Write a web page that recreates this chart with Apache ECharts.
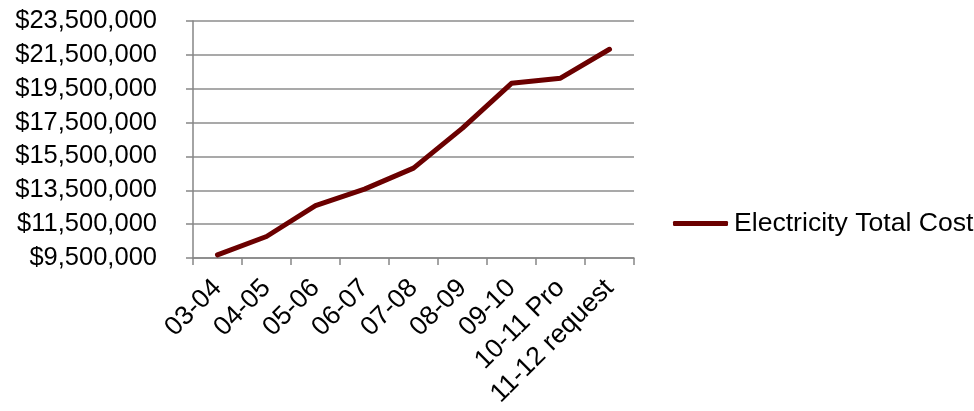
<!DOCTYPE html>
<html>
<head>
<meta charset="utf-8">
<script src="https://cdn.jsdelivr.net/npm/echarts@6/dist/echarts.min.js"></script>
<style>
  html, body { margin: 0; padding: 0; background: #fff; }
  #main { width: 974px; height: 411px; }
</style>
</head>
<body>
<div id="main"></div>
<script>
// values
var years = ['03-04', '04-05', '05-06', '06-07', '07-08', '08-09', '09-10', '10-11 Pro', '11-12 request'];
var totalCost = [9680000, 10770000, 12590000, 13570000, 14810000, 17170000, 19820000, 20120000, 21830000];
var seriesName = 'Electricity Total Cost';

var myChart = echarts.init(document.getElementById('main'));

function money(v) {
    return '$' + String(v).replace(/\B(?=(\d{3})+(?!\d))/g, ',');
}

myChart.setOption({
    animation: false,
    textStyle: { fontFamily: 'Liberation Sans, Arial, sans-serif' },
    grid: { left: 193, right: 340, top: 21, bottom: 153 },
    legend: {
        data: [seriesName],
        left: 668,
        top: 205,
        icon: 'roundRect',
        itemWidth: 55,
        itemHeight: 5,
        itemGap: 0,
        textStyle: { fontSize: 26.6, color: '#000', padding: [0, 0, 0, 1] }
    },
    xAxis: {
        type: 'category',
        data: years,
        boundaryGap: true,
        axisLine: { lineStyle: { color: '#868686', width: 1.5 } },
        axisTick: { show: true, length: 7, lineStyle: { color: '#868686', width: 1.5 } },
        axisLabel: { rotate: 45, margin: 26, padding: [10, 0, 0, 0], fontSize: 26.5, color: '#000', interval: 0 }
    },
    yAxis: {
        type: 'value',
        min: 9500000,
        max: 23500000,
        interval: 2000000,
        axisLine: { show: true, lineStyle: { color: '#868686', width: 1.5 } },
        axisTick: { show: true, length: 7, lineStyle: { color: '#868686', width: 1.5 } },
        splitLine: { lineStyle: { color: '#8c8c8c', width: 1.5 } },
        axisLabel: { margin: 36, fontSize: 25.5, color: '#000', formatter: money }
    },
    series: [
        {
            name: seriesName,
            type: 'line',
            data: totalCost,
            symbol: 'none',
            color: '#6b0000',
            lineStyle: { color: '#6b0000', width: 5, cap: 'round', join: 'round' }
        }
    ]
});
</script>
</body>
</html>
